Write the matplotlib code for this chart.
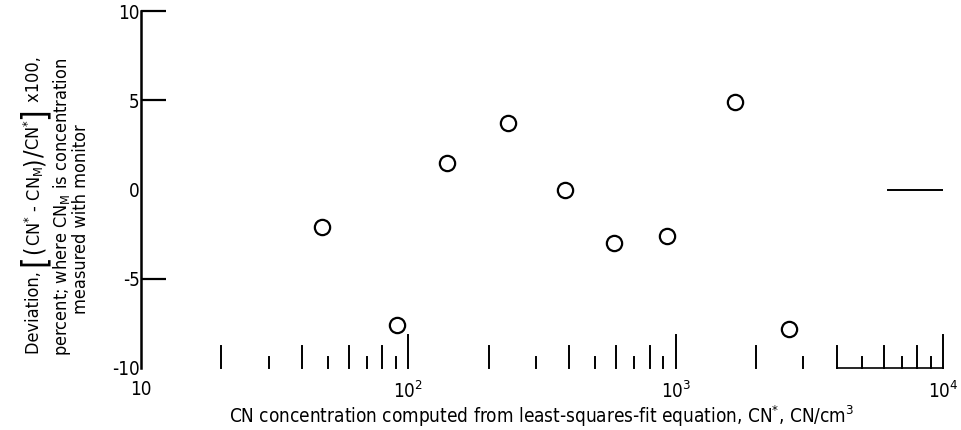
import numpy as np
import matplotlib
matplotlib.use("Agg")
import matplotlib.pyplot as plt
import matplotlib.transforms as mtransforms
from matplotlib import font_manager as fm

# CN monitor deviation vs. computed CN concentration
cn_computed = [47.5, 91, 140, 236, 385, 589, 929, 1667, 2655]
deviation = [-2.1, -7.6, 1.5, 3.7, 0.0, -3.0, -2.6, 4.9, -7.8]

x_tick_values = [10, 100, 1000, 10000]
x_tick_labels = ["10", "$10^{2}$", "$10^{3}$", "$10^{4}$"]
y_tick_values = [-10, -5, 0, 5, 10]
y_tick_labels = ["-10", "-5", "0", "5", "10"]

# pick a narrow face if one is around
fonts = fm.fontManager.ttflist
names = {f.name for f in fonts}
narrow_dejavu = any(f.name == "DejaVu Sans" and f.stretch in ("condensed", "semi-condensed")
                    for f in fonts)
if "Liberation Sans Narrow" in names:
    face, stretch = "Liberation Sans Narrow", "normal"
elif narrow_dejavu:
    face, stretch = "DejaVu Sans", "condensed"
else:
    face, stretch = "Liberation Sans", "normal"

plt.rcParams["font.family"] = [face, "DejaVu Sans"]
plt.rcParams["font.stretch"] = stretch
plt.rcParams["mathtext.fontset"] = "custom"
plt.rcParams["mathtext.rm"] = f"{face}:stretch={stretch}"
plt.rcParams["mathtext.it"] = f"{face}:italic:stretch={stretch}"
plt.rcParams["mathtext.bf"] = f"{face}:bold:stretch={stretch}"

fig = plt.figure(figsize=(9.62, 4.30), dpi=100)
ax = fig.add_axes([0.1466, 0.1442, 0.8336, 0.8302])

ax.plot(cn_computed, deviation, linestyle="none", marker="o", markersize=11,
        markerfacecolor="white", markeredgecolor="black", markeredgewidth=1.6,
        clip_on=False)

ax.set_xscale("log")
ax.set_xlim(10, 1e4)
ax.set_ylim(-10, 10)

# only the left axis line and a short piece of the baseline
ax.spines["top"].set_visible(False)
ax.spines["right"].set_visible(False)
ax.spines["left"].set_linewidth(1.8)
ax.spines["bottom"].set_linewidth(1.2)
ax.spines["bottom"].set_bounds(4000, 1e4)

ax.set_xticks(x_tick_values)
ax.set_xticklabels(x_tick_labels)
ax.xaxis.set_minor_locator(matplotlib.ticker.NullLocator())
ax.tick_params(axis="x", length=0, pad=9, labelsize=13.5)

ax.set_yticks(y_tick_values)
ax.set_yticklabels(y_tick_labels)
ax.tick_params(axis="y", direction="in", length=18, width=1.6, pad=1, labelsize=13.5)
# ticks at 0 and -10 are not drawn on the left side
for t, v in zip(ax.yaxis.get_major_ticks(), y_tick_values):
    if v in (0, -10):
        t.tick1line.set_visible(False)

# zero reference stub at the right edge
ax.axhline(0, xmin=0.932, xmax=1.0, color="black", linewidth=1.4)

# log-cycle marks standing on the baseline: decades tall, even digits medium, odd short
trans = mtransforms.blended_transform_factory(ax.transData, ax.transAxes)
for decade in [10, 100, 1000]:
    for k in range(2, 11):
        xv = decade * k
        if k == 10:
            h = 0.093
        elif k % 2 == 0:
            h = 0.062
        else:
            h = 0.031
        ax.plot([xv, xv], [0, h], color="black", linewidth=1.4,
                transform=trans, clip_on=False)

ax.set_xlabel("CN concentration computed from least-squares-fit equation, "
              "CN$^{*}$, CN/cm$^{3}$", fontsize=13.6, labelpad=1)

# first caption line is built from pieces so the brackets can be drawn large
renderer = fig.canvas.get_renderer()
pieces = [
    ("Deviation, ", 13),
    ("[", 24),
    ("(", 17),
    (r"CN$^{*}$ - CN$_{\mathrm{M}}$", 13),
    (")", 17),
    ("/", 18),
    (r"CN$^{*}$", 13),
    ("]", 24),
    (" x100,", 13),
]
heights = []
for s, fs in pieces:
    tmp = fig.text(0, 0, s, fontsize=fs, rotation=90)
    heights.append(tmp.get_window_extent(renderer).height)
    tmp.remove()

col_x = 34
y_px = 430 - 205 - sum(heights) / 2
for (s, fs), h in zip(pieces, heights):
    fig.text(col_x / 962, y_px / 430, s, fontsize=fs, rotation=90,
             ha="center", va="bottom")
    y_px += h

fig.text(0.064, 0.52, r"percent; where CN$_{\mathrm{M}}$ is concentration",
         rotation=90, ha="center", va="center", fontsize=13)
fig.text(0.084, 0.49, "measured with monitor",
         rotation=90, ha="center", va="center", fontsize=13)

fig.savefig("out.png", dpi=100, facecolor="white")
